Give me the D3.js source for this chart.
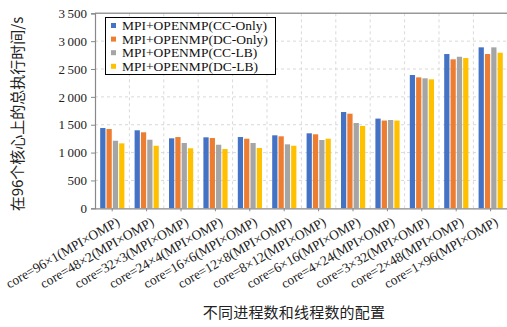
<!DOCTYPE html>
<html><head><meta charset="utf-8">
<script src="https://cdn.jsdelivr.net/npm/d3@7"></script>
<style>
body{margin:0;background:#fff;}
svg{display:block;}
</style></head>
<body><svg id="c" width="507" height="327"></svg>
<script>
const categories = ["core=96×1(MPI×OMP)","core=48×2(MPI×OMP)","core=32×3(MPI×OMP)","core=24×4(MPI×OMP)","core=16×6(MPI×OMP)","core=12×8(MPI×OMP)","core=8×12(MPI×OMP)","core=6×16(MPI×OMP)","core=4×24(MPI×OMP)","core=3×32(MPI×OMP)","core=2×48(MPI×OMP)","core=1×96(MPI×OMP)"];
const seriesNames = ["MPI+OPENMP(CC-Only)","MPI+OPENMP(DC-Only)","MPI+OPENMP(CC-LB)","MPI+OPENMP(DC-LB)"];
const ccOnly = [1441,1400,1256,1274,1279,1310,1346,1728,1610,2392,2769,2889];
const dcOnly = [1423,1364,1279,1261,1249,1292,1328,1698,1575,2350,2674,2769];
const ccLB   = [1213,1231,1172,1141,1172,1148,1226,1531,1585,2333,2720,2889];
const dcLB   = [1166,1123,1077,1064,1082,1123,1249,1477,1575,2315,2697,2792];
const yTicks = [0,500,1000,1500,2000,2500,3000,3500];
const colors = ["#4472C4","#ED7D31","#A5A5A5","#FFC000"];
const yTitle = "在96个核心上的总执行时间/s";
const xTitle = "不同进程数和线程数的配置";

const seriesVals = [ccOnly, dcOnly, ccLB, dcLB];
const svg = d3.select("#c");
const L = 95, R = 507.8, T = 13.3, B = 208.3;
const serif = "'Liberation Serif','DejaVu Serif',serif";
const cjk = "'Noto Sans CJK SC','Noto Sans',sans-serif";

const x = d3.scaleBand().domain(categories).range([L, R]).padding(0);
const xs = d3.scaleBand().domain(d3.range(4)).range([5.2, 29.4]).paddingInner(0.17).paddingOuter(0);
const y = d3.scaleLinear().domain([0, 3500]).range([B, T]);

// grid
const g = svg.append("g");
g.selectAll("line.h").data(yTicks.filter(d => d > 0 && d < 3500)).join("line")
  .attr("x1", L).attr("x2", R).attr("y1", d => y(d)).attr("y2", d => y(d))
  .attr("stroke", "#d9d9d9").attr("stroke-dasharray", "3,3");
g.selectAll("line.v").data(categories.slice(1)).join("line")
  .attr("x1", d => x(d)).attr("x2", d => x(d)).attr("y1", T).attr("y2", B)
  .attr("stroke", "#d9d9d9").attr("stroke-dasharray", "3,3");
// top border
svg.append("line").attr("x1", L).attr("x2", 507).attr("y1", T).attr("y2", T)
  .attr("stroke", "#999").attr("stroke-width", 1.5);

// bars
categories.forEach((c, i) => {
  seriesVals.forEach((vals, s) => {
    svg.append("rect")
      .attr("x", x(c) + xs(s)).attr("width", xs.bandwidth())
      .attr("y", y(vals[i])).attr("height", B - y(vals[i]))
      .attr("fill", colors[s]);
  });
});

// y axis
const yAxis = svg.append("g").attr("transform", `translate(${L},0)`)
  .call(d3.axisLeft(y).tickValues(yTicks).tickSize(4).tickPadding(4)
    .tickFormat(d => d3.format(",")(d).replace(",", "\u2009")));
yAxis.select(".domain").attr("stroke", "#888").attr("stroke-width", 1.2);
yAxis.selectAll(".tick line").attr("stroke", "#888");
yAxis.selectAll("text").attr("font-family", serif).attr("font-size", 13).attr("fill", "#222");

// x axis
const xAxis = svg.append("g").attr("transform", `translate(0,${B})`)
  .call(d3.axisBottom(x).tickSize(3).tickSizeOuter(0).tickFormat(""));
xAxis.select(".domain").attr("stroke", "#888").attr("stroke-width", 1.2);
xAxis.selectAll(".tick line").attr("stroke", "#888");

svg.append("g").selectAll("text").data(categories).join("text")
  .attr("transform", d => `translate(${x(d) + x.bandwidth()/2 + 6},${B + 12}) rotate(-30)`)
  .attr("text-anchor", "end").attr("dy", "0.35em")
  .attr("font-family", serif).attr("font-size", 13.5).attr("fill", "#222")
  .text(d => d);

// titles
svg.append("text").attr("transform", "translate(18,114) rotate(-90)")
  .attr("text-anchor", "middle").attr("dy", "0.35em")
  .attr("font-family", cjk).attr("font-size", 15).attr("fill", "#222").text(yTitle);
svg.append("text").attr("x", 294).attr("y", 313).attr("dy", "0.35em")
  .attr("text-anchor", "middle").attr("letter-spacing", "0.2px")
  .attr("font-family", cjk).attr("font-size", 15).attr("fill", "#222").text(xTitle);

// legend
const lg = svg.append("g");
lg.append("rect").attr("x", 105.5).attr("y", 17.5).attr("width", 170).attr("height", 57)
  .attr("fill", "#fff").attr("stroke", "#000").attr("stroke-width", 1);
seriesNames.forEach((n, i) => {
  const cy = 25.5 + i * 13.6;
  lg.append("rect").attr("x", 111).attr("y", cy - 2.5).attr("width", 5).attr("height", 5).attr("fill", colors[i]);
  lg.append("text").attr("x", 122).attr("y", cy).attr("dy", "0.35em")
    .attr("font-family", serif).attr("font-size", 13.5).attr("fill", "#111").text(n);
});
</script></body></html>
